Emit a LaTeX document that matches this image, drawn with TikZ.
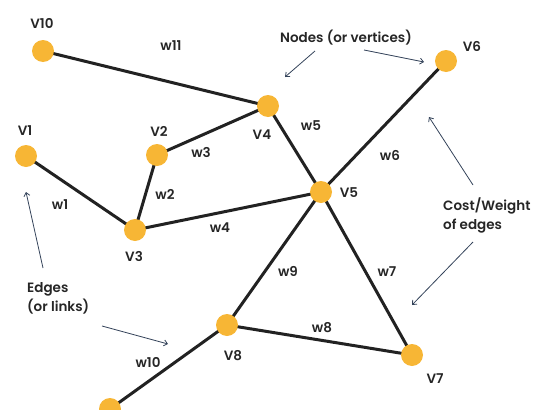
\documentclass[tikz,border=0pt]{standalone}
\usepackage{fontspec}
\setmainfont{Poppins SemiBold}
\usetikzlibrary{arrows.meta}
\definecolor{nodeor}{HTML}{F7B635}
\definecolor{edgecol}{HTML}{222222}
\definecolor{annot}{HTML}{34435A}
\tikzset{
  vtx/.style={circle,fill=nodeor,minimum size=22pt,inner sep=0pt},
  lbl/.style={font=\fontsize{13.5}{19}\selectfont,text=black!85,inner sep=0pt},
  edge/.style={draw=edgecol,line width=3pt},
  note/.style={draw=annot,line width=0.8pt,-{Straight Barb[length=3.5pt,width=6pt]}},
}
\begin{document}
\begin{tikzpicture}[x=1pt,y=-1pt]
\useasboundingbox (0,0) rectangle (542,410);
% vertices
\coordinate (p10) at (43,51);
\coordinate (p1) at (26,156);
\coordinate (p2) at (157,155);
\coordinate (p4) at (268,106);
\coordinate (p3) at (135,230);
\coordinate (p5) at (321,192);
\coordinate (p6) at (446,61);
\coordinate (p8) at (227,325);
\coordinate (p7) at (412,355);
\coordinate (p11) at (110,409);
% edges
\draw[edge] (p10) -- (p4);
\draw[edge] (p1) -- (p3);
\draw[edge] (p2) -- (p3);
\draw[edge] (p2) -- (p4);
\draw[edge] (p3) -- (p5);
\draw[edge] (p4) -- (p5);
\draw[edge] (p5) -- (p6);
\draw[edge] (p5) -- (p8);
\draw[edge] (p5) -- (p7);
\draw[edge] (p8) -- (p7);
\draw[edge] (p8) -- (p11);
% nodes
\foreach \n in {10,1,2,4,3,5,6,8,7,11} { \node[vtx] (v\n) at (p\n) {}; }
% vertex labels
\node[lbl] (l10) at (42,23) {V10};
\node[lbl] (l1) at (25,131) {V1};
\node[lbl] (l2) at (159,131) {V2};
\node[lbl] (l4) at (262,135) {V4};
\node[lbl] (l3) at (134,256) {V3};
\node[lbl] (l5) at (349,193) {V5};
\node[lbl] (l6) at (472,46) {V6};
\node[lbl] (l8) at (233,356) {V8};
\node[lbl] (l7) at (435,379) {V7};
% edge labels
\node[lbl] (w11) at (171,46) {w11};
\node[lbl] (w3) at (201,152) {w3};
\node[lbl] (w5) at (311,126) {w5};
\node[lbl] (w6) at (390,155) {w6};
\node[lbl] (w2) at (165,194) {w2};
\node[lbl] (w1) at (60,205) {w1};
\node[lbl] (w4) at (220,228) {w4};
\node[lbl] (w9) at (288,271) {w9};
\node[lbl] (w7) at (387,272) {w7};
\node[lbl] (w8) at (322,328) {w8};
\node[lbl] (w10) at (148,362) {w10};
% annotations
\node[lbl] (nodes) at (346,38) {Nodes (or vertices)};
\node[lbl,align=left,anchor=west] (cost) at (443,215) {Cost/Weight\\of edges};
\node[lbl,align=left,anchor=west] (edges) at (27,298) {Edges\\(or links)};
\coordinate (a1s) at (315,51); \coordinate (a1e) at (285,77);
\coordinate (a2s) at (364,50); \coordinate (a2e) at (424,62);
\coordinate (a3s) at (473,185); \coordinate (a3e) at (429,117);
\coordinate (a4s) at (473,242); \coordinate (a4e) at (412,305);
\coordinate (a5s) at (43,268); \coordinate (a5e) at (26,192);
\coordinate (a6s) at (102,326); \coordinate (a6e) at (168,344);
\draw[note] (a1s) -- (a1e);
\draw[note] (a2s) -- (a2e);
\draw[note] (a3s) -- (a3e);
\draw[note] (a4s) -- (a4e);
\draw[note] (a5s) -- (a5e);
\draw[note] (a6s) -- (a6e);
\end{tikzpicture}
\end{document}
